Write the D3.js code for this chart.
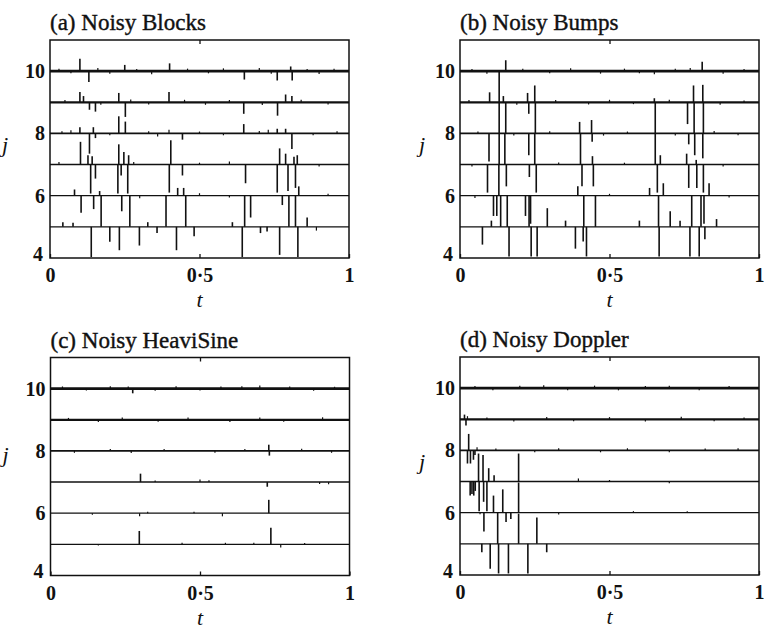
<!DOCTYPE html>
<html>
<head>
<meta charset="utf-8">
<script src="https://cdn.jsdelivr.net/npm/d3@7"></script>
<style>
body { margin: 0; background: #fff; }
svg text { font-family: "Liberation Serif", "Times New Roman", Times, serif; fill: #111; }
</style>
</head>
<body>
<script>
var levels = [5, 6, 7, 8, 9, 10];
var yTicks = [4, 6, 8, 10];
var xTicks = [0, 0.5, 1];
var xTickLabels = ["0", "0·5", "1"];
var titles = ["(a) Noisy Blocks", "(b) Noisy Bumps", "(c) Noisy HeaviSine", "(d) Noisy Doppler"];
var yLabel = "j";
var xLabel = "t";

// each coefficient: [level j, position t, value in level units]
var blocksCoefs = [
  [10, 0.10, 0.4], [10, 0.13, -0.35], [10, 0.25, 0.2], [10, 0.40, 0.25], [10, 0.65, -0.27], [10, 0.76, -0.3], [10, 0.81, -0.3], [10, 0.805, 0.15],
  [9, 0.10, 0.33], [9, 0.112, 0.2], [9, 0.132, -0.24], [9, 0.152, -0.3], [9, 0.23, 0.3], [9, 0.252, -0.47], [9, 0.398, 0.33], [9, 0.648, -0.37], [9, 0.761, -0.43], [9, 0.788, 0.25], [9, 0.809, 0.2],
  [8, 0.10, 0.2], [8, 0.132, -0.65], [8, 0.145, 0.2], [8, 0.152, -0.15], [8, 0.23, 0.55], [8, 0.252, 0.38], [8, 0.398, 0.12], [8, 0.443, -0.2], [8, 0.648, 0.3], [8, 0.76, 0.15], [8, 0.788, 0.15], [8, 0.809, -0.5],
  [7, 0.102, 0.73], [7, 0.127, 0.3], [7, 0.141, 0.27], [7, 0.23, 0.65], [7, 0.247, 0.4], [7, 0.263, 0.3], [7, 0.404, 0.78], [7, 0.768, 0.52], [7, 0.788, 0.35], [7, 0.816, 0.25], [7, 0.827, 0.3],
  [7, 0.136, -0.93], [7, 0.152, -0.45], [7, 0.227, -0.93], [7, 0.238, -0.35], [7, 0.26, -0.93], [7, 0.399, -0.9], [7, 0.443, -0.35], [7, 0.654, -0.6], [7, 0.76, -0.9], [7, 0.796, -0.85], [7, 0.821, -0.75],
  [6, 0.082, 0.2], [6, 0.166, 0.15], [6, 0.427, 0.25], [6, 0.447, 0.25], [6, 0.832, 0.3],
  [6, 0.104, -0.55], [6, 0.146, -0.43], [6, 0.171, -1.0], [6, 0.24, -0.5], [6, 0.267, -1.0], [6, 0.388, -1.0], [6, 0.454, -1.0], [6, 0.651, -1.0], [6, 0.671, -0.7], [6, 0.777, -0.3], [6, 0.799, -1.0], [6, 0.821, -1.0],
  [5, 0.043, 0.15], [5, 0.077, 0.13], [5, 0.327, 0.15], [5, 0.61, 0.15], [5, 0.86, 0.3],
  [5, 0.138, -0.97], [5, 0.2, -0.48], [5, 0.232, -0.75], [5, 0.299, -0.6], [5, 0.358, -0.2], [5, 0.423, -0.75], [5, 0.482, -0.3], [5, 0.643, -0.97], [5, 0.704, -0.2], [5, 0.726, -0.15], [5, 0.768, -0.9], [5, 0.829, -0.97], [5, 0.891, -0.12]
];
var bumpsCoefs = [
  [10, 0.131, -1.0], [10, 0.153, 0.35], [10, 0.81, 0.3], [10, 0.65, -0.1],
  [9, 0.099, 0.32], [9, 0.131, -1.0], [9, 0.145, 0.2], [9, 0.153, -1.0], [9, 0.226, 0.3], [9, 0.23, -0.37], [9, 0.25, 0.54], [9, 0.252, -1.0], [9, 0.65, 0.13], [9, 0.653, -1.0], [9, 0.761, -0.7], [9, 0.781, 0.54], [9, 0.783, -1.0], [9, 0.812, 0.56], [9, 0.814, -1.0],
  [8, 0.097, -0.9], [8, 0.131, -1.0], [8, 0.150, -1.0], [8, 0.23, -0.7], [8, 0.25, -1.0], [8, 0.4, 0.37], [8, 0.403, -1.0], [8, 0.44, 0.43], [8, 0.442, -0.27], [8, 0.653, -1.0], [8, 0.765, -0.35], [8, 0.785, -0.7], [8, 0.812, -0.8],
  [7, 0.092, -0.9], [7, 0.13, -1.0], [7, 0.155, -0.7], [7, 0.232, -0.4], [7, 0.255, -0.9], [7, 0.408, -0.7], [7, 0.443, 0.27], [7, 0.446, -0.7], [7, 0.66, -0.9], [7, 0.67, 0.3], [7, 0.758, 0.35], [7, 0.765, -0.75], [7, 0.79, 0.15], [7, 0.792, -0.75], [7, 0.814, -0.9],
  [6, 0.112, -0.65], [6, 0.123, -0.65], [6, 0.136, -1.0], [6, 0.158, -1.0], [6, 0.219, -0.65], [6, 0.231, -1.0], [6, 0.236, -0.9], [6, 0.394, 0.3], [6, 0.414, -1.0], [6, 0.453, -1.0], [6, 0.634, 0.25], [6, 0.664, -1.0], [6, 0.68, 0.4], [6, 0.775, -1.0], [6, 0.806, -1.0], [6, 0.816, -0.9], [6, 0.833, 0.4],
  [5, 0.075, -0.57], [5, 0.105, 0.2], [5, 0.164, -0.95], [5, 0.238, -0.95], [5, 0.258, -0.95], [5, 0.292, 0.6], [5, 0.353, 0.2], [5, 0.386, -0.7], [5, 0.412, -0.47], [5, 0.423, -0.95], [5, 0.6, 0.2], [5, 0.666, -0.95], [5, 0.703, 0.5], [5, 0.736, 0.2], [5, 0.769, -0.95], [5, 0.8, -0.95], [5, 0.819, -0.4], [5, 0.858, 0.25]
];
var heavisineCoefs = [
  [10, 0.275, -0.15], [10, 0.70, 0.1],
  [8, 0.73, 0.2], [8, 0.732, -0.15],
  [7, 0.301, 0.27], [7, 0.5, 0.08], [7, 0.725, -0.15], [7, 0.9, -0.06],
  [6, 0.14, -0.05], [6, 0.298, -0.1], [6, 0.325, 0.05], [6, 0.48, 0.05], [6, 0.575, -0.1], [6, 0.73, 0.43],
  [5, 0.16, -0.04], [5, 0.297, 0.43], [5, 0.44, 0.05], [5, 0.585, 0.05], [5, 0.737, 0.53], [5, 0.77, -0.1]
];
var dopplerCoefs = [
  [9, 0.015, 0.15], [9, 0.02, -0.2], [9, 0.025, 0.1],
  [8, 0.029, 0.53], [8, 0.025, -0.42], [8, 0.035, -0.42], [8, 0.045, -0.3], [8, 0.05, -0.15], [8, 0.057, 0.1],
  [7, 0.062, 0.9], [7, 0.077, 0.85], [7, 0.096, 0.43], [7, 0.114, 0.2], [7, 0.196, 0.9], [7, 0.396, 0.1],
  [7, 0.034, -0.45], [7, 0.04, -0.4], [7, 0.046, -0.45], [7, 0.051, -0.3], [7, 0.064, -0.95], [7, 0.079, -0.65], [7, 0.09, -0.95],
  [6, 0.112, 0.55], [6, 0.143, 0.75], [6, 0.196, 0.97],
  [6, 0.067, -0.05], [6, 0.08, -0.6], [6, 0.126, -1.0], [6, 0.154, -0.3], [6, 0.17, -0.2],
  [5, 0.196, 0.97], [5, 0.257, 0.85],
  [5, 0.073, -0.27], [5, 0.101, -0.8], [5, 0.129, -0.95], [5, 0.162, -0.95], [5, 0.227, -0.95], [5, 0.29, -0.27]
];

// small noise hairs on the fine levels: [level j, position t, value]
var blocksNoise = [
  [10, 0.03, 0.08], [10, 0.07, -0.07], [10, 0.16, 0.1], [10, 0.2, -0.08], [10, 0.29, 0.07], [10, 0.34, -0.1], [10, 0.46, 0.08], [10, 0.53, -0.07], [10, 0.58, 0.09], [10, 0.70, 0.1], [10, 0.74, -0.08], [10, 0.86, 0.07], [10, 0.9, -0.09], [10, 0.95, 0.08],
  [9, 0.05, 0.07], [9, 0.17, -0.08], [9, 0.27, 0.09], [9, 0.33, -0.07], [9, 0.45, 0.08], [9, 0.52, -0.08], [9, 0.6, 0.07], [9, 0.71, -0.09], [9, 0.84, 0.08], [9, 0.93, -0.07],
  [8, 0.04, 0.07], [8, 0.07, 0.1], [8, 0.2, -0.06], [8, 0.33, 0.07], [8, 0.36, -0.1], [8, 0.5, 0.06], [8, 0.58, -0.06], [8, 0.7, 0.08], [8, 0.73, 0.12], [8, 0.88, -0.06], [8, 0.96, 0.07],
  [7, 0.03, 0.08], [7, 0.28, 0.08], [7, 0.5, 0.06], [7, 0.6, 0.1], [7, 0.9, -0.06],
  [6, 0.3, -0.08], [6, 0.5, 0.08], [6, 0.6, -0.06], [6, 0.93, 0.06]
];
var bumpsNoise = [
  [10, 0.04, 0.07], [10, 0.09, -0.08], [10, 0.21, 0.08], [10, 0.3, -0.07], [10, 0.37, 0.09], [10, 0.47, -0.08], [10, 0.55, 0.08], [10, 0.6, -0.07], [10, 0.72, 0.08], [10, 0.77, 0.1], [10, 0.88, -0.08], [10, 0.95, 0.07],
  [9, 0.03, 0.07], [9, 0.19, -0.08], [9, 0.32, 0.07], [9, 0.43, -0.07], [9, 0.5, 0.08], [9, 0.58, -0.06], [9, 0.7, 0.08], [9, 0.87, -0.08], [9, 0.95, 0.06],
  [8, 0.06, 0.06], [8, 0.18, -0.07], [8, 0.3, 0.07], [8, 0.48, -0.07], [8, 0.56, 0.06], [8, 0.72, -0.07], [8, 0.85, 0.08], [8, 0.93, -0.06],
  [7, 0.04, -0.06], [7, 0.33, 0.07], [7, 0.55, 0.06], [7, 0.88, -0.06],
  [6, 0.05, -0.07], [6, 0.5, 0.06], [6, 0.9, -0.06]
];
var heavisineNoise = [
  [10, 0.04, 0.07], [10, 0.12, -0.06], [10, 0.2, 0.08], [10, 0.26, 0.07], [10, 0.35, -0.07], [10, 0.42, 0.08], [10, 0.5, -0.06], [10, 0.57, 0.07], [10, 0.64, 0.08], [10, 0.8, 0.07], [10, 0.88, -0.07], [10, 0.95, 0.06],
  [9, 0.06, 0.06], [9, 0.16, -0.07], [9, 0.24, 0.07], [9, 0.36, -0.06], [9, 0.46, 0.07], [9, 0.6, -0.07], [9, 0.7, 0.07], [9, 0.78, -0.06], [9, 0.91, 0.08],
  [8, 0.08, -0.06], [8, 0.2, 0.06], [8, 0.27, -0.07], [8, 0.38, 0.06], [8, 0.55, -0.06], [8, 0.65, 0.06], [8, 0.84, 0.07], [8, 0.94, -0.06],
  [7, 0.35, 0.05], [7, 0.53, 0.06], [7, 0.93, -0.07],
  [5, 0.68, 0.05], [5, 0.85, 0.04]
];
var dopplerNoise = [
  [10, 0.05, 0.07], [10, 0.11, -0.07], [10, 0.2, 0.08], [10, 0.28, 0.09], [10, 0.36, -0.07], [10, 0.45, 0.08], [10, 0.53, -0.07], [10, 0.62, 0.07], [10, 0.7, 0.08], [10, 0.8, -0.07], [10, 0.9, 0.07],
  [9, 0.09, 0.06], [9, 0.18, -0.07], [9, 0.29, 0.07], [9, 0.38, -0.06], [9, 0.5, 0.07], [9, 0.62, -0.07], [9, 0.74, 0.08], [9, 0.85, -0.06], [9, 0.95, 0.06],
  [8, 0.12, 0.06], [8, 0.25, -0.06], [8, 0.33, 0.07], [8, 0.47, -0.06], [8, 0.56, 0.07], [8, 0.7, -0.06], [8, 0.82, 0.06], [8, 0.93, 0.07],
  [7, 0.5, 0.05], [7, 0.7, -0.05],
  [6, 0.33, -0.06], [6, 0.58, 0.05], [6, 0.76, 0.05]
];
var panelData = [
  blocksCoefs.concat(blocksNoise),
  bumpsCoefs.concat(bumpsNoise),
  heavisineCoefs.concat(heavisineNoise),
  dopplerCoefs.concat(dopplerNoise)
];

var width = 764, height = 633;
var pw = 299, ph = 218;
var panelPos = [[50, 40], [460, 40], [50.5, 357.5], [460, 357]];
var lineWidth = {10: 2.8, 9: 2.3, 8: 1.8, 7: 1.5, 6: 1.3, 5: 1.2};

var svg = d3.select("body").append("svg")
    .attr("width", width)
    .attr("height", height);

var x = d3.scaleLinear().domain([0, 1]).range([0, pw]);
var y = d3.scaleLinear().domain([4, 11]).range([ph, 0]);

panelData.forEach(function(coefs, i) {
    var g = svg.append("g")
        .attr("transform", "translate(" + panelPos[i][0] + "," + panelPos[i][1] + ")");

    g.append("text")
        .attr("x", 0)
        .attr("y", -10)
        .attr("font-size", 23)
        .attr("stroke", "#111")
        .attr("stroke-width", 0.4)
        .text(titles[i]);

    // level baselines
    g.selectAll(".base")
        .data(levels)
        .enter().append("line")
        .attr("x1", 0)
        .attr("x2", pw)
        .attr("y1", function(d) { return y(d); })
        .attr("y2", function(d) { return y(d); })
        .attr("stroke", "#111")
        .attr("stroke-width", function(d) { return lineWidth[d]; });

    // coefficient spikes
    g.selectAll(".spike")
        .data(coefs)
        .enter().append("line")
        .attr("x1", function(d) { return x(d[1]); })
        .attr("x2", function(d) { return x(d[1]); })
        .attr("y1", function(d) { return y(d[0]); })
        .attr("y2", function(d) { return y(d[0] + d[2]); })
        .attr("stroke", "#111")
        .attr("stroke-width", function(d) { return Math.abs(d[2]) < 0.13 ? 1.2 : 1.6; });

    g.append("rect")
        .attr("width", pw)
        .attr("height", ph)
        .attr("fill", "none")
        .attr("stroke", "#111")
        .attr("stroke-width", 1.5);

    var xAxis = g.append("g")
        .attr("transform", "translate(0," + ph + ")")
        .call(d3.axisBottom(x).tickValues(xTicks)
            .tickFormat(function(d, k) { return xTickLabels[k]; })
            .tickSizeInner(-4).tickSizeOuter(0).tickPadding(10));
    var xTop = g.append("g")
        .call(d3.axisTop(x).tickValues([0.5]).tickFormat("")
            .tickSizeInner(-4).tickSizeOuter(0));
    var yAxis = g.append("g")
        .call(d3.axisLeft(y).tickValues(yTicks).tickFormat(d3.format("d"))
            .tickSizeInner(0).tickSizeOuter(0).tickPadding(5));

    [xAxis, xTop, yAxis].forEach(function(a) {
        a.attr("font-family", null);
        a.select(".domain").remove();
        a.selectAll("line").attr("stroke", "#111").attr("stroke-width", 1.3);
        a.selectAll("text")
            .attr("fill", "#111")
            .attr("font-size", 20)
            .attr("font-weight", "bold");
    });
    // the bottom label "4" sits a little above the corner
    yAxis.selectAll(".tick text").filter(function(d) { return d === 4; })
        .attr("dy", "0.1em").attr("dx", -2);

    g.append("text")
        .attr("x", pw / 2)
        .attr("y", ph + 49)
        .attr("text-anchor", "middle")
        .attr("font-size", 22)
        .attr("font-style", "italic")
        .text(xLabel);

    g.append("text")
        .attr("x", i % 2 === 0 ? -48 : -41)
        .attr("y", y(7.4) + (i === 2 ? -8 : 0))
        .attr("font-size", 22)
        .attr("font-style", "italic")
        .text(yLabel);
});
</script>
</body>
</html>
